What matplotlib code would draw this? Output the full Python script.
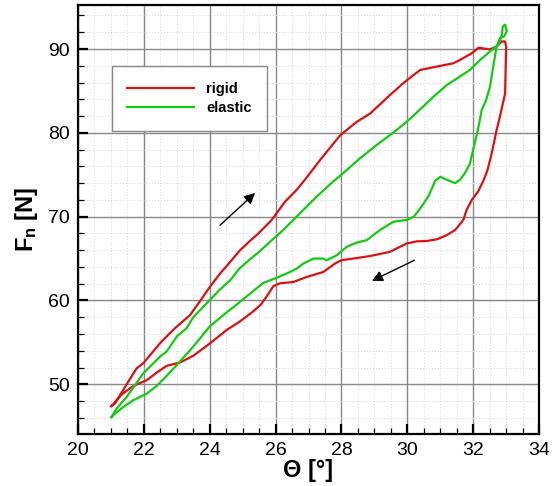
import numpy as np
import matplotlib
matplotlib.use('Agg')
import matplotlib.pyplot as plt
from matplotlib.ticker import MultipleLocator

plt.rcParams['font.family'] = ['Liberation Sans', 'DejaVu Sans']
plt.rcParams['mathtext.fontset'] = 'custom'
plt.rcParams['mathtext.rm'] = 'Liberation Sans'
plt.rcParams['mathtext.bf'] = 'Liberation Sans:bold'

# hysteresis loops: loading branch then unloading branch
theta_rigid = [21.02, 21.12, 21.43, 21.78, 21.98, 22.49, 22.89, 23.4, 23.7, 24.0, 24.31, 24.6,
               24.92, 25.22, 25.48, 25.88, 26.29, 26.64, 26.89, 27.35, 27.96, 28.46, 28.87,
               29.47, 29.93, 30.39, 30.89, 31.4, 31.6, 31.96, 32.16, 32.51, 32.71, 32.87,
               32.97, 33.0,
               32.97, 32.81, 32.71, 32.56, 32.43, 32.3, 32.15, 31.96, 31.8, 31.7, 31.45, 31.2,
               30.9, 30.6, 30.28, 29.98, 29.47, 28.87, 28.36, 28.0, 27.8, 27.45, 26.94, 26.54,
               26.13, 25.93, 25.75, 25.55, 25.32, 24.92, 24.52, 24.11, 23.91, 23.5, 23.1,
               22.69, 22.39, 22.09, 21.68, 21.33, 21.17, 21.07, 21.0]
fn_rigid = [47.4, 47.7, 49.7, 51.9, 52.5, 54.9, 56.5, 58.25, 59.9, 61.6, 63.2, 64.5,
            66.0, 67.1, 68.0, 69.6, 71.8, 73.2, 74.4, 76.75, 79.7, 81.3, 82.3,
            84.5, 86.1, 87.5, 87.9, 88.3, 88.7, 89.5, 90.15, 89.96, 90.3, 90.9,
            90.9, 90.3,
            84.7, 81.9, 80.3, 77.5, 75.5, 74.2, 73.0, 72.0, 70.8, 69.6, 68.4, 67.8,
            67.3, 67.1, 67.05, 66.8, 65.8, 65.3, 65.0, 64.8, 64.4, 63.4, 62.8, 62.2,
            62.05, 61.7, 60.6, 59.5, 58.7, 57.5, 56.5, 55.2, 54.6, 53.4, 52.6,
            52.2, 51.4, 50.5, 49.8, 48.8, 48.1, 47.6, 47.4]

theta_elastic = [21.02, 21.17, 21.48, 21.98, 22.49, 22.69, 23.0, 23.3, 23.5, 24.0, 24.31,
                 24.62, 24.9, 25.22, 25.5, 25.83, 26.23, 26.74, 27.25, 27.75, 28.0, 28.56,
                 29.07, 29.53, 29.98, 30.39, 30.79, 31.2, 31.55, 31.9, 32.21, 32.51, 32.76,
                 32.87, 32.9, 32.97, 33.02, 32.94, 32.82,
                 32.71, 32.61, 32.51, 32.4, 32.26, 32.14, 32.0, 31.9, 31.75, 31.6, 31.45,
                 31.2, 31.0, 30.85, 30.65, 30.45, 30.2, 29.98, 29.58, 29.17, 28.77, 28.46,
                 28.16, 27.86, 27.55, 27.45, 27.15, 26.84, 26.64, 26.44, 26.03, 25.63,
                 25.22, 24.72, 24.52, 24.0, 23.5, 23.0, 22.69, 22.39, 22.09, 21.68, 21.38,
                 21.12, 21.02]
fn_elastic = [46.1, 47.1, 48.5, 51.3, 53.3, 53.9, 55.7, 56.7, 58.0, 60.05, 61.3,
              62.4, 63.8, 64.9, 65.8, 67.0, 68.4, 70.4, 72.4, 74.2, 75.0, 76.95,
              78.55, 79.9, 81.3, 82.8, 84.3, 85.7, 86.6, 87.5, 88.7, 89.7, 90.5,
              91.7, 92.7, 92.9, 92.1, 91.5, 91.3,
              90.3, 87.9, 85.5, 84.0, 82.7, 80.3, 78.0, 76.3, 75.2, 74.4, 74.0,
              74.4, 74.75, 74.3, 72.5, 71.3, 70.0, 69.6, 69.4, 68.4, 67.2, 66.9,
              66.4, 65.4, 64.8, 65.0, 65.0, 64.4, 63.8, 63.4, 62.7, 62.1,
              60.8, 59.2, 58.6, 56.9, 54.5, 52.3, 51.0, 49.8, 48.9, 48.1, 47.3,
              46.5, 46.1]

fig = plt.figure(figsize=(5.58, 4.86), dpi=100)
ax = fig.add_axes([0.1398, 0.107, 0.8262, 0.8827])

ax.plot(theta_rigid, fn_rigid, color='#dd1111', lw=1.6, label='rigid', zorder=3)
ax.plot(theta_elastic, fn_elastic, color='#11cc11', lw=1.6, label='elastic', zorder=3)

# direction arrows
ax.annotate('', xy=(25.44, 73.05), xytext=(24.25, 68.75),
            arrowprops=dict(arrowstyle='-|>', color='k', lw=1.0, mutation_scale=16))
ax.annotate('', xy=(28.85, 62.2), xytext=(30.29, 64.94),
            arrowprops=dict(arrowstyle='-|>', color='k', lw=1.0, mutation_scale=16))

ax.set_xlim(20, 34)
ax.set_ylim(44.07, 95.25)
ax.xaxis.set_major_locator(MultipleLocator(2))
ax.xaxis.set_minor_locator(MultipleLocator(0.5))
ax.yaxis.set_major_locator(MultipleLocator(10))
ax.yaxis.set_minor_locator(MultipleLocator(2))

ax.grid(which='major', color='#888888', lw=1.0)
ax.grid(which='minor', color='#dddddd', lw=0.8, ls=':')
ax.set_axisbelow(True)

ax.tick_params(which='major', direction='in', length=7, width=1.6, labelsize=14, pad=6)
ax.tick_params(which='minor', direction='in', length=4, width=0.9)
for s in ax.spines.values():
    s.set_linewidth(1.6)

ax.set_xlabel('\u0398 [°]', fontsize=17, fontweight='bold', labelpad=0)
ax.set_ylabel(r'$\mathbf{F_n}$ [N]', fontsize=17, fontweight='bold', labelpad=6)

leg = ax.legend(loc='upper left', bbox_to_anchor=(0.058, 0.874), fancybox=False,
                edgecolor='#888888', framealpha=1, handlelength=4.6,
                prop={'weight': 'bold', 'size': 10.5}, borderpad=1.05, labelspacing=0.4)
leg.get_frame().set_linewidth(1.0)

fig.savefig('out.png', dpi=100)
